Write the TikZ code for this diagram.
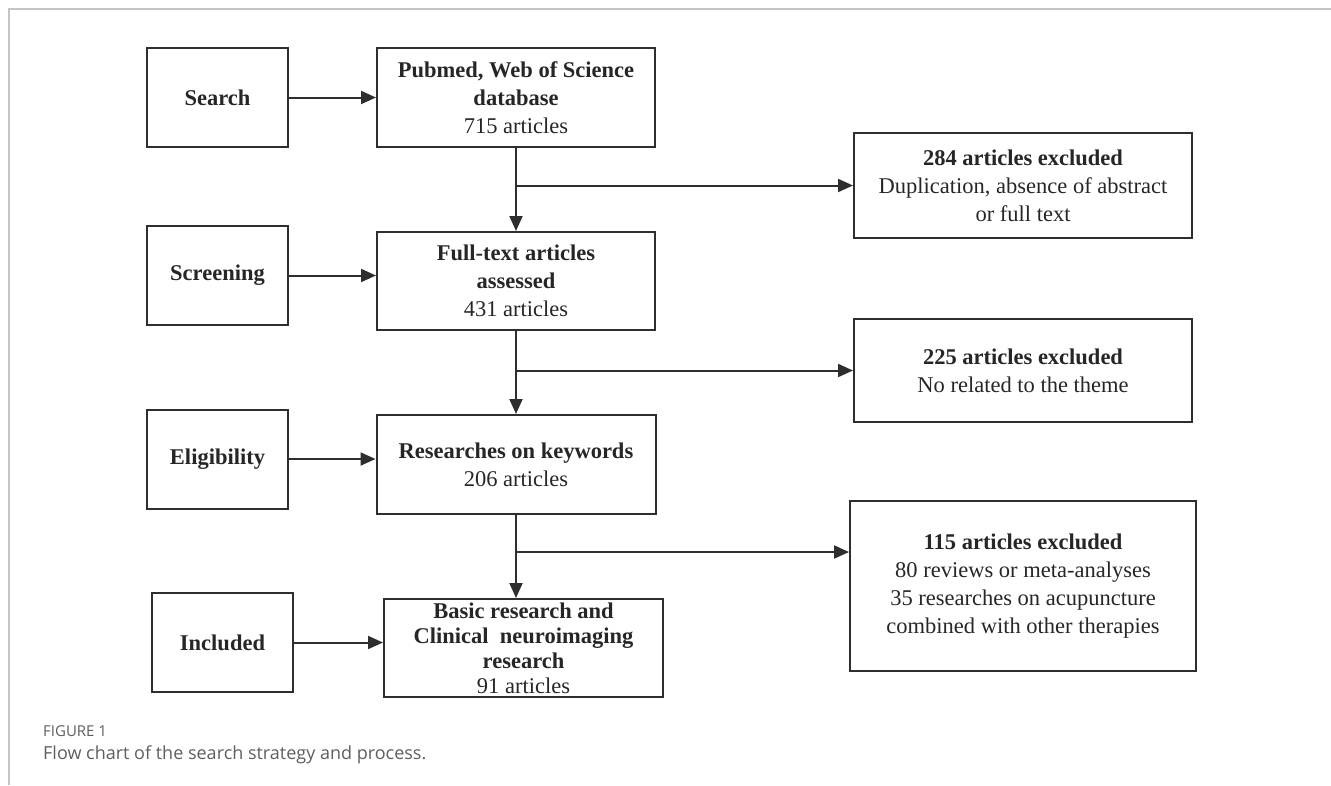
\documentclass[tikz,border=0pt]{standalone}
\usepackage{fontspec}
\setmainfont{Liberation Serif}
\newfontfamily\capfont{Open Sans}
\usetikzlibrary{arrows.meta}
\definecolor{boxgray}{HTML}{2E2E2E}
\definecolor{textgray}{HTML}{262626}
\definecolor{capgray}{HTML}{5E5E5E}
\definecolor{framegray}{HTML}{C4C4C4}

\begin{document}
\begin{tikzpicture}[x=1pt,y=-1pt,
  box/.style={draw=boxgray,line width=2pt,inner sep=0pt,align=center,text=textgray,
    font=\fontsize{22.5}{28}\selectfont},
  stage/.style={box,minimum width=141pt,minimum height=99pt,font=\fontsize{22.5}{28}\selectfont\bfseries},
  flow/.style={draw=boxgray,line width=2pt,-{Triangle[length=15pt,width=13pt]}}]
  \useasboundingbox (0,0) rectangle (1331,785);
  % page frame
  \draw[framegray,line width=1.5pt] (9,785) -- (9,9) -- (1331,9);
  % stages on the left
  \foreach \nm/\px/\py/\txt in {search/217.5/97.5/Search,screening/217.5/275.5/Screening,
      eligibility/217.5/459/Eligibility,included/222.5/642.5/Included}
    {\node[stage] (\nm) at (\px,\py) {\txt};}
  % main column
  \node[box,minimum width=278pt,minimum height=99pt] (pubmed) at (516,97.5)
    {\textbf{Pubmed, Web of Science}\\\textbf{database}\\715 articles};
  \node[box,minimum width=278pt,minimum height=98pt] (fulltext) at (516,281)
    {\textbf{Full-text articles}\\\textbf{assessed}\\431 articles};
  \node[box,minimum width=279pt,minimum height=99pt] (keywords) at (516,464.5)
    {\textbf{Researches on keywords}\\206 articles};
  \node[box,minimum width=279pt,minimum height=98pt,font=\fontsize{22.5}{25}\selectfont] (basic) at (523.5,648)
    {\textbf{Basic research and}\\\textbf{Clinical\ \ neuroimaging}\\\textbf{research}\\91 articles};
  % exclusions
  \node[box,minimum width=338pt,minimum height=105pt] (excl1) at (1023,185.5)
    {\textbf{284 articles excluded}\\Duplication, absence of abstract\\or full text};
  \node[box,minimum width=338pt,minimum height=103pt] (excl2) at (1023,370.5)
    {\textbf{225 articles excluded}\\No related to the theme};
  \node[box,minimum width=346pt,minimum height=170pt] (excl3) at (1023,586)
    {\textbf{115 articles excluded}\\80 reviews or meta-analyses\\35 researches on acupuncture\\combined with other therapies};
  % arrows
  \draw[flow] (search) -- (pubmed);
  \draw[flow] (screening.east) -- (screening.east -| fulltext.west);
  \draw[flow] (eligibility.east) -- (eligibility.east -| keywords.west);
  \draw[flow] (included.east) -- (included.east -| basic.west);
  \draw[flow] (pubmed) -- (fulltext);
  \draw[flow] (fulltext) -- (keywords);
  \draw[flow] (keywords.south) -- (keywords.south |- basic.north);
  \draw[flow] (pubmed.south |- excl1.west) -- (excl1.west);
  \draw[flow] (fulltext.south |- excl2.west) -- (excl2.west);
  \coordinate (split3) at (516,552);
  \draw[flow] (split3) -- (split3 -| excl3.west);
  % caption
  \node[anchor=west,inner sep=0pt,text=capgray,font=\capfont\fontsize{15}{17}\selectfont] (figno) at (43,731) {FIGURE 1};
  \node[anchor=west,inner sep=0pt,text=capgray,font=\capfont\fontsize{18}{21}\selectfont] (caption) at (43,755)
    {Flow chart of the search strategy and process.};
\end{tikzpicture}
\end{document}
